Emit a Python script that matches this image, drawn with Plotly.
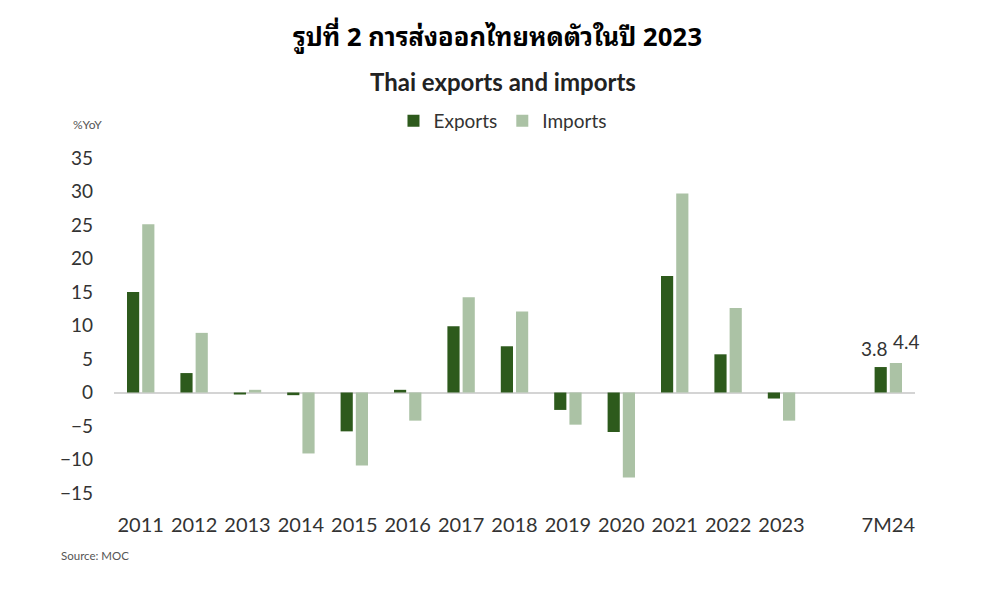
import plotly.graph_objects as go

# Thai exports / imports, %YoY (source: MOC)
categories = ["2011", "2012", "2013", "2014", "2015", "2016", "2017", "2018",
              "2019", "2020", "2021", "2022", "2023", " ", "7M24"]
exports = [15.0, 2.9, -0.3, -0.4, -5.8, 0.4, 9.9, 6.9,
           -2.6, -5.9, 17.4, 5.7, -0.9, None, 3.8]
imports = [25.1, 8.9, 0.4, -9.1, -10.9, -4.2, 14.2, 12.1,
           -4.8, -12.7, 29.7, 12.6, -4.2, None, 4.4]
y_ticks = [35, 30, 25, 20, 15, 10, 5, 0, -5, -10, -15]

EXP_COLOR = "#2d5a1c"
IMP_COLOR = "#abc2a5"
FONT = "Lato, 'Open Sans', sans-serif"

fig = go.Figure()
fig.add_trace(go.Bar(x=categories, y=exports, name="Exports",
                     marker=dict(color=EXP_COLOR, line=dict(width=0))))
fig.add_trace(go.Bar(x=categories, y=imports, name="Imports",
                     marker=dict(color=IMP_COLOR, line=dict(width=0))))

# value labels for the latest period only
last = categories[-1]
fig.add_annotation(x=last, y=exports[-1], text=f"{exports[-1]:.1f}",
                   showarrow=False, yanchor="bottom", xshift=-14, yshift=5,
                   font=dict(size=19, color="#333333", family=FONT))
fig.add_annotation(x=last, y=imports[-1], text=f"{imports[-1]:.1f}",
                   showarrow=False, yanchor="bottom", xshift=18, yshift=8,
                   font=dict(size=19, color="#333333", family=FONT))

# titles and notes (centred on the page, not on the plot area)
fig.add_annotation(text="<b>รูปที่ 2 การส่งออกไทยหดตัวในปี 2023</b>",
                   xref="paper", yref="paper", x=0.479, y=1, xanchor="center",
                   yanchor="middle", yshift=124, showarrow=False,
                   font=dict(size=25.5, color="#000000",
                             family="'Noto Sans Thai Looped', 'Noto Sans Thai', 'Noto Sans', sans-serif"))
fig.add_annotation(text="<b>Thai exports and imports</b>",
                   xref="paper", yref="paper", x=0.486, y=1, xanchor="center",
                   yanchor="middle", yshift=77, showarrow=False,
                   font=dict(size=24, color="#222222", family=FONT))
fig.add_annotation(text="%YoY", xref="paper", yref="paper", x=0, y=1,
                   xanchor="left", yanchor="middle", xshift=-43, yshift=34,
                   showarrow=False, font=dict(size=12, color="#555555", family=FONT))
fig.add_annotation(text="Source: MOC", xref="paper", yref="paper", x=0, y=0,
                   xanchor="left", yanchor="middle", xshift=-55, yshift=-62,
                   showarrow=False, font=dict(size=11.5, color="#555555", family=FONT))

fig.update_layout(
    width=992, height=598,
    margin=dict(l=106, r=85, t=150, b=113, autoexpand=False),
    paper_bgcolor="white", plot_bgcolor="white",
    barmode="group", bargap=0.43, bargroupgap=0.2,
    font=dict(family=FONT, color="#333333"),
    showlegend=True,
    legend=dict(orientation="h", x=0.485, xanchor="center",
                y=1 - 113 / 598, yanchor="middle", yref="container",
                font=dict(size=19, color="#333333"), itemwidth=30,
                traceorder="normal"),
)

fig.update_xaxes(type="category", categoryorder="array", categoryarray=categories,
                 range=[-0.5, len(categories) - 0.5],
                 showline=False, showgrid=False, zeroline=False, ticks="",
                 tickfont=dict(size=20, color="#333333"), ticklabelstandoff=18,
                 automargin=False)
fig.update_yaxes(range=[-15, 35], tickvals=y_ticks, showgrid=False,
                 zeroline=True, zerolinecolor="#d4d4d4", zerolinewidth=1.5,
                 showline=False, ticks="", tickfont=dict(size=19, color="#333333"),
                 ticklabelstandoff=20, automargin=False)

fig.write_html("out.html")
